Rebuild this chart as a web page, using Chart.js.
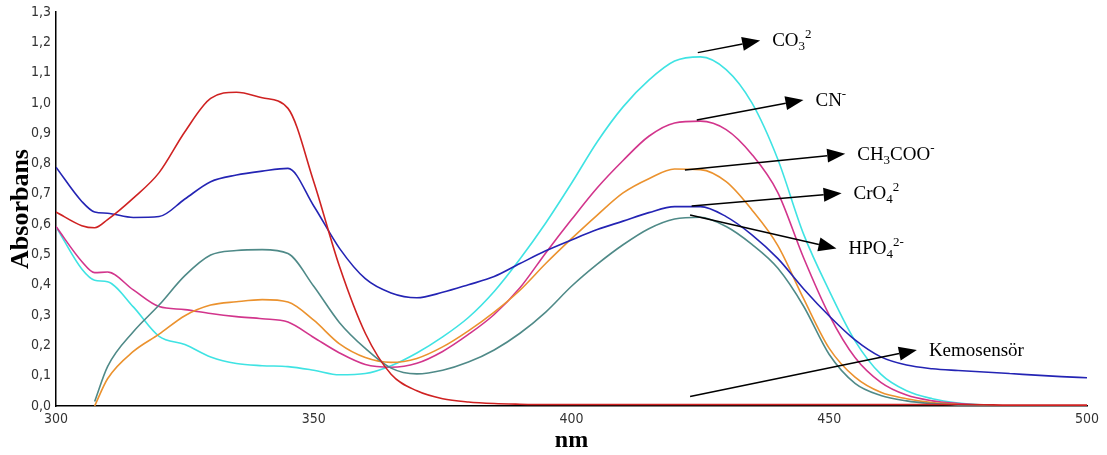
<!DOCTYPE html>
<html>
<head>
<meta charset="utf-8">
<script src="https://cdn.jsdelivr.net/npm/chart.js@4/dist/chart.umd.min.js"></script>
<style>
  html, body { margin: 0; padding: 0; background: #fff; }
  #wrap { width: 1107px; height: 455px; }
</style>
</head>
<body>
<div id="wrap"><canvas id="spectra"></canvas></div>
<script>
// wavelength grid (nm), shared by every series
const wavelengths = [300, 305, 307.5, 310, 315, 320, 325, 330, 335, 340, 345, 350, 355, 360, 365, 370, 375, 380, 385, 390, 395,
  400, 405, 410, 415, 420, 425, 430, 435, 440, 445, 450, 455, 460, 465, 470, 475, 480, 485, 490, 495, 500];

const kemosensor = [0.64, 0.595, 0.588, 0.615, 0.686, 0.77, 0.905, 1.015, 1.035, 1.017, 0.982, 0.74, 0.46, 0.24, 0.105, 0.05, 0.024,
  0.013, 0.008, 0.006, 0.005, 0.005, 0.005, 0.005, 0.005, 0.005, 0.005, 0.005, 0.005, 0.005, 0.005, 0.005, 0.005, 0.005, 0.005,
  0.005, 0.005, 0.004, 0.003, 0.003, 0.003, 0.003];
const cro4 = [0.788, 0.675, 0.64, 0.636, 0.622, 0.625, 0.683, 0.74, 0.762, 0.775, 0.784, 0.66, 0.52, 0.42, 0.373, 0.357, 0.375,
  0.4, 0.427, 0.47, 0.512, 0.548, 0.582, 0.61, 0.638, 0.658, 0.658, 0.625, 0.565, 0.487, 0.387, 0.297, 0.218, 0.162, 0.135,
  0.123, 0.117, 0.112, 0.107, 0.102, 0.097, 0.093];
const co3 = [0.592, 0.452, 0.415, 0.41, 0.327, 0.23, 0.203, 0.162, 0.14, 0.133, 0.13, 0.118, 0.103, 0.107, 0.133, 0.175, 0.228,
  0.292, 0.378, 0.485, 0.604, 0.735, 0.872, 0.987, 1.075, 1.138, 1.152, 1.11, 1.0, 0.815, 0.568, 0.38, 0.215, 0.105, 0.05,
  0.024, 0.01, 0.003, 0, 0, 0, 0];
const cn = [0.592, 0.477, 0.44, 0.442, 0.383, 0.328, 0.318, 0.305, 0.295, 0.288, 0.277, 0.226, 0.175, 0.137, 0.128, 0.141, 0.18,
  0.236, 0.302, 0.39, 0.505, 0.615, 0.72, 0.81, 0.89, 0.934, 0.94, 0.912, 0.83, 0.705, 0.49, 0.3, 0.16, 0.078, 0.036,
  0.017, 0.008, 0.002, 0, 0, 0, 0];
const ch3coo = [null, null, 0, 0.09, 0.18, 0.237, 0.298, 0.333, 0.344, 0.351, 0.343, 0.283, 0.205, 0.16, 0.144, 0.157, 0.195,
  0.248, 0.31, 0.382, 0.47, 0.552, 0.63, 0.703, 0.75, 0.782, 0.78, 0.74, 0.647, 0.53, 0.355, 0.19, 0.095, 0.045, 0.024,
  0.011, 0.005, 0.002, 0, 0, 0, 0];
const hpo4 = [null, null, 0.015, 0.13, 0.245, 0.333, 0.43, 0.498, 0.513, 0.516, 0.503, 0.395, 0.275, 0.19, 0.125, 0.106, 0.118,
  0.145, 0.185, 0.24, 0.31, 0.395, 0.468, 0.532, 0.585, 0.617, 0.623, 0.592, 0.533, 0.455, 0.33, 0.17, 0.075, 0.035, 0.017,
  0.008, 0.003, 0, 0, 0, 0, 0];

// arrows: tail and tip in (nm, absorbance); label pieces: [text, 'sub'|'sup'|'']
const arrows = [
  { from: [424.5, 1.166], to: [436.6, 1.206], label: [['CO', ''], ['3', 'sub'], ['2', 'sup']] },
  { from: [424.3, 0.944], to: [445.0, 1.010], label: [['CN', ''], ['-', 'sup']] },
  { from: [422.0, 0.779], to: [453.1, 0.832], label: [['CH', ''], ['3', 'sub'], ['COO', ''], ['-', 'sup']] },
  { from: [423.3, 0.660], to: [452.4, 0.702], label: [['CrO', ''], ['4', 'sub'], ['2', 'sup']] },
  { from: [423.0, 0.630], to: [451.4, 0.520], label: [['HPO', ''], ['4', 'sub'], ['2-', 'sup']] },
  { from: [423.0, 0.031], to: [467.0, 0.185], label: [['Kemosensör', '']] }
];

function series(values) {
  return wavelengths.map((x, i) => ({ x: x, y: values[i] }));
}

const arrowPlugin = {
  id: 'arrows',
  afterDatasetsDraw(chart) {
    const ctx = chart.ctx;
    const xs = chart.scales.x, ys = chart.scales.y;
    ctx.save();
    arrows.forEach(a => {
      const x1 = xs.getPixelForValue(a.from[0]), y1 = ys.getPixelForValue(a.from[1]);
      const x2 = xs.getPixelForValue(a.to[0]), y2 = ys.getPixelForValue(a.to[1]);
      const ang = Math.atan2(y2 - y1, x2 - x1);
      const len = 18, half = 7;
      const bx = x2 - len * Math.cos(ang), by = y2 - len * Math.sin(ang);
      ctx.strokeStyle = '#000';
      ctx.lineWidth = 1.5;
      ctx.beginPath();
      ctx.moveTo(x1, y1);
      ctx.lineTo(bx, by);
      ctx.stroke();
      ctx.fillStyle = '#000';
      ctx.beginPath();
      ctx.moveTo(x2, y2);
      ctx.lineTo(bx + half * Math.sin(ang), by - half * Math.cos(ang));
      ctx.lineTo(bx - half * Math.sin(ang), by + half * Math.cos(ang));
      ctx.closePath();
      ctx.fill();

      // label
      let tx = x2 + 12;
      const ty = y2 + 6;
      a.label.forEach(p => {
        const small = p[1] !== '';
        ctx.font = (small ? '13px' : '19px') + ' "Liberation Serif", "Times New Roman", serif';
        let dy = 0;
        if (p[1] === 'sub') dy = 4;
        if (p[1] === 'sup') dy = -8;
        ctx.textBaseline = 'alphabetic';
        ctx.textAlign = 'left';
        ctx.fillText(p[0], tx, ty + dy);
        tx += ctx.measureText(p[0]).width;
      });
    });
    ctx.restore();
  }
};

const tickFont = { family: '"Liberation Sans Narrow", "DejaVu Sans Condensed", "Liberation Sans", Arial', size: 14 };

new Chart(document.getElementById('spectra'), {
  type: 'line',
  data: {
    datasets: [
      { label: 'Kemosensör', data: series(kemosensor), borderColor: '#cf2222' },
      { label: 'CrO4', data: series(cro4), borderColor: '#2424b4' },
      { label: 'HPO4', data: series(hpo4), borderColor: '#4f8a88' },
      { label: 'CH3COO', data: series(ch3coo), borderColor: '#eb922e' },
      { label: 'CN', data: series(cn), borderColor: '#d2358c' },
      { label: 'CO3', data: series(co3), borderColor: '#3fe3e3' }
    ]
  },
  options: {
    responsive: true,
    maintainAspectRatio: false,
    animation: false,
    layout: { padding: { top: 12, right: 20, left: 0, bottom: 0 } },
    datasets: {
      line: {
        borderWidth: 1.6,
        pointRadius: 0,
        cubicInterpolationMode: 'monotone',
        spanGaps: false
      }
    },
    plugins: {
      legend: { display: false },
      tooltip: { enabled: false }
    },
    scales: {
      x: {
        type: 'linear',
        min: 300,
        max: 500,
        afterFit(scale) { scale.height = 49; },
        grid: { display: false, drawTicks: true, tickLength: 4, color: '#000' },
        border: { color: '#000', width: 1.5 },
        ticks: {
          stepSize: 50,
          color: '#333',
          font: tickFont,
          padding: 1,
          maxRotation: 0
        },
        title: {
          display: true,
          text: 'nm',
          color: '#000',
          font: { family: '"Liberation Serif", "Times New Roman", serif', size: 24, weight: 'bold' },
          padding: { top: -7, bottom: 0 }
        }
      },
      y: {
        min: 0,
        max: 1.3,
        afterFit(scale) { scale.width = 56; },
        grid: { display: false, drawTicks: true, tickLength: 4, color: '#000' },
        border: { color: '#000', width: 1.5 },
        ticks: {
          stepSize: 0.1,
          color: '#333',
          font: tickFont,
          padding: 1,
          callback: v => v.toFixed(1).replace('.', ',')
        },
        title: {
          display: true,
          text: 'Absorbans',
          color: '#000',
          font: { family: '"Liberation Serif", "Times New Roman", serif', size: 26, weight: 'bold' },
          padding: { top: 6, bottom: 0 }
        }
      }
    }
  },
  plugins: [arrowPlugin]
});
</script>
</body>
</html>
